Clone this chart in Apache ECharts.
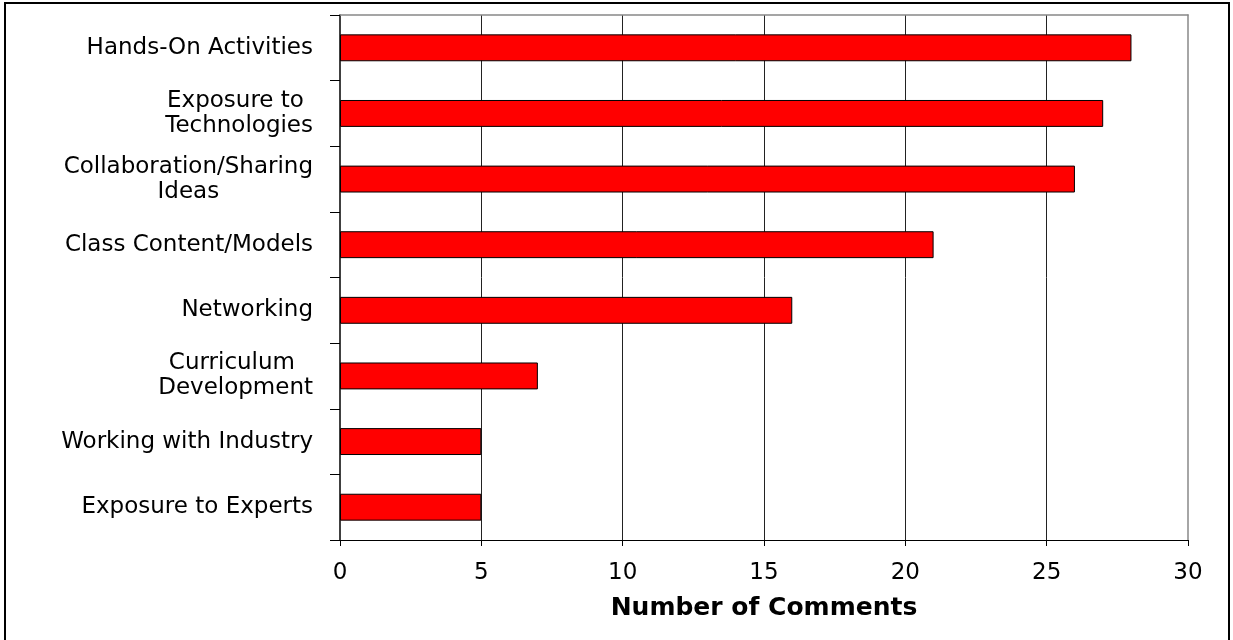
<!DOCTYPE html>
<html>
<head>
<meta charset="utf-8">
<style>
  html, body { margin: 0; padding: 0; background: #fff; }
  #frame { position: absolute; left: 4px; top: 2px; width: 1222px; height: 660px;
           border-left: 2px solid #000; border-top: 2px solid #000; border-right: 2px solid #000; }
  #chart { position: absolute; left: 0; top: 0; width: 1233px; height: 640px; }
</style>
<script src="https://cdn.jsdelivr.net/npm/echarts@6/dist/echarts.min.js"></script>
</head>
<body>
<div id="frame"></div>
<div id="chart"></div>
<script>
const categories = [
  'Hands-On Activities',
  'Exposure to \nTechnologies',
  'Collaboration/Sharing\nIdeas',
  'Class Content/Models',
  'Networking',
  'Curriculum \nDevelopment',
  'Working with Industry',
  'Exposure to Experts'
];
const comments = [28, 27, 26, 21, 16, 7, 5, 5];
const xTicks = { min: 0, max: 30, interval: 5 };
const xTitle = 'Number of Comments';

const font = '"DejaVu Sans", "Liberation Sans", Arial, sans-serif';
const chart = echarts.init(document.getElementById('chart'), null, { renderer: 'canvas' });
chart.setOption({
  backgroundColor: 'transparent',
  animation: false,
  grid: { left: 340, right: 45, top: 15, bottom: 100, containLabel: false },
  xAxis: [{
    type: 'value',
    min: xTicks.min, max: xTicks.max, interval: xTicks.interval,
    position: 'bottom',
    axisLine: { show: true, lineStyle: { color: '#000', width: 1 } },
    axisTick: { show: true, length: 6, lineStyle: { color: '#000' } },
    axisLabel: { margin: 22, color: '#000', fontSize: 23, fontFamily: font },
    splitLine: { show: true, showMinLine: false, showMaxLine: false, lineStyle: { color: '#222', width: 1 } },
    name: xTitle,
    nameLocation: 'middle',
    nameGap: 56,
    nameTextStyle: { color: '#000', fontSize: 25, fontWeight: 'bold', fontFamily: font }
  }, {
    type: 'value',
    min: xTicks.min, max: xTicks.max, interval: xTicks.interval,
    position: 'top',
    axisLine: { show: true, onZero: false, lineStyle: { color: '#888', width: 1.5 } },
    axisTick: { show: false }, axisLabel: { show: false }, splitLine: { show: false }
  }],
  yAxis: [{
    type: 'category',
    data: categories,
    inverse: true,
    axisLine: { show: true, onZero: false, lineStyle: { color: '#000', width: 1.5 } },
    axisTick: { show: true, length: 10, lineStyle: { color: '#000' } },
    axisLabel: {
      margin: 27,
      color: '#000',
      fontSize: 23,
      fontFamily: font,
      lineHeight: 25,
      formatter: function (v) {
        return v.split('\n').map(function (s) { return '{c|' + s + '}'; }).join('\n');
      },
      rich: { c: { align: 'center', fontSize: 23, fontFamily: font, lineHeight: 25, color: '#000' } }
    },
    splitLine: { show: false }
  }, {
    type: 'category',
    data: categories,
    inverse: true,
    position: 'right',
    axisLine: { show: true, onZero: false, lineStyle: { color: '#888', width: 1.5 } },
    axisTick: { show: false }, axisLabel: { show: false }, splitLine: { show: false }
  }],
  series: [{
    type: 'bar',
    xAxisIndex: 0,
    yAxisIndex: 0,
    data: comments,
    barWidth: '41%',
    itemStyle: { color: '#ff0000', borderColor: '#000', borderWidth: 1 }
  }]
});
</script>
</body>
</html>
